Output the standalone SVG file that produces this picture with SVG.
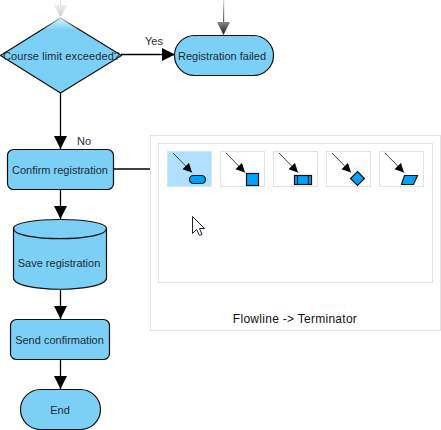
<svg xmlns="http://www.w3.org/2000/svg" width="441" height="430" viewBox="0 0 441 430">
<defs>
<marker id="arr" markerUnits="userSpaceOnUse" markerWidth="14" markerHeight="14" refX="13" refY="7" orient="auto"><path d="M0,0.500 L13,7 L0,13.500 Z" fill="#000"/></marker>
<marker id="sm" markerUnits="userSpaceOnUse" markerWidth="10" markerHeight="10" refX="9" refY="5" orient="auto"><path d="M0,0.500 L9,5 L0,9.500 Z" fill="#000"/></marker>
<linearGradient id="fadeTop" x1="0" y1="0" x2="0" y2="1"><stop offset="0" stop-color="#fff" stop-opacity="0.850"/><stop offset="1" stop-color="#fff" stop-opacity="0"/></linearGradient>
<linearGradient id="fadeLine" x1="0" y1="0" x2="0" y2="1"><stop offset="0" stop-color="#eee"/><stop offset="1" stop-color="#ccc"/></linearGradient>
<linearGradient id="fadeDarkLine" x1="0" y1="0" x2="0" y2="1"><stop offset="0" stop-color="#ddd"/><stop offset="1" stop-color="#444"/></linearGradient>
<linearGradient id="fadeDark" x1="0" y1="0" x2="0" y2="1"><stop offset="0" stop-color="#888"/><stop offset="1" stop-color="#1a1a1a"/></linearGradient>
</defs>
<style>
.n{fill:#7ccff5;stroke:#111;stroke-width:1.200;stroke-linejoin:round}
.t{font-family:"Liberation Sans",Arial,sans-serif;font-size:11px;fill:#1f2c38;text-anchor:middle}
.c{stroke:#000;stroke-width:1.300;fill:none}
.b{fill:#fff;stroke:#e2e2e2;stroke-width:1}
.s{fill:#00a2ff;stroke:#111;stroke-width:1.200}
.k{stroke:#444;stroke-width:1;fill:none;marker-end:url(#sm)}
</style>
<rect width="441" height="430" fill="#fff"/>
<g id="connectors">
<rect x="60" y="0" width="1" height="8" fill="url(#fadeLine)"/>
<path d="M54,5 H67 L60.500,18 Z" fill="url(#fadeLine)"/>
<rect x="223" y="0" width="1.200" height="24" fill="url(#fadeDarkLine)"/>
<path d="M217,22 H230 L223.500,35 Z" fill="url(#fadeDark)"/>
<path class="c" d="M121,54.500 H175" marker-end="url(#arr)"/>
<path class="c" d="M60.500,93 V149" marker-end="url(#arr)"/>
<path class="c" d="M113.500,169 H166"/>
<path class="c" d="M60.500,190 V219" marker-end="url(#arr)"/>
<path class="c" d="M60.500,290 V319" marker-end="url(#arr)"/>
<path class="c" d="M60.500,360 V389" marker-end="url(#arr)"/>
</g>
<text class="t" x="154" y="45">Yes</text>
<text class="t" x="84" y="145">No</text>
<g id="n1"><path class="n" d="M60.500,18 L121.500,55.500 L60.500,93 L0.500,55.500 Z"/><rect x="40" y="16" width="41" height="14" fill="url(#fadeTop)"/><text class="t" x="61.500" y="60" style="letter-spacing:0.100px">Course limit exceeded?</text></g>
<g id="n2"><rect class="n" x="174.500" y="35.500" width="99" height="40" rx="20" ry="20"/><text class="t" x="222" y="60">Registration failed</text></g>
<g id="n3"><rect class="n" x="7.500" y="149.500" width="106" height="40" rx="6" ry="6"/><text class="t" x="60" y="174">Confirm registration</text></g>
<g id="n4"><path class="n" d="M13.500,228.500 C13.500,216.500 106.500,216.500 106.500,228.500 V278 C106.500,293 13.500,293 13.500,278 Z"/><path class="n" style="fill:none" d="M13.500,228.500 C13.500,242 106.500,242 106.500,228.500"/><text class="t" x="59" y="267">Save registration</text></g>
<g id="n5"><rect class="n" x="10.500" y="319.500" width="99" height="40" rx="6" ry="6"/><text class="t" x="59.500" y="344">Send confirmation</text></g>
<g id="n6"><rect class="n" x="20.500" y="389.500" width="80" height="40" rx="20" ry="20"/><text class="t" x="60" y="414">End</text></g>
<g id="panel">
<rect class="b" x="150.500" y="135.500" width="290" height="195"/>
<rect class="b" x="158.500" y="143.500" width="274" height="139"/>
<rect x="167.500" y="151.500" width="44" height="35" fill="#b0e0ff" stroke="#d8e4ec"/>
<rect class="b" x="220.500" y="151.500" width="44" height="35"/>
<rect class="b" x="273.500" y="151.500" width="44" height="35"/>
<rect class="b" x="326.500" y="151.500" width="44" height="35"/>
<rect class="b" x="379.500" y="151.500" width="44" height="35"/>
<path class="k" d="M173,153 L192,172.500"/>
<rect class="s" x="189.500" y="175.500" width="16" height="8" rx="4" ry="4"/>
<path class="k" d="M226,153 L245,172.500"/>
<rect class="s" x="246.500" y="173.500" width="12" height="12"/>
<path class="k" d="M279,153 L298,172.500"/>
<rect class="s" x="294.500" y="175.500" width="17" height="9"/>
<path d="M297.500,175.500 V184.500 M308.500,175.500 V184.500" stroke="#111" stroke-width="1.200" fill="none"/>
<path class="k" d="M332,153 L351,172.500"/>
<path class="s" d="M357.500,171.500 L364.500,178.500 L357.500,185.500 L350.500,178.500 Z"/>
<path class="k" d="M385,153 L404,172.500"/>
<path class="s" d="M404.500,175.500 H417.500 L413.500,184.500 H401.500 Z"/>
<path d="M192.500,216.500 V233.500 L196.500,229.500 L199.500,235.500 L202,234.500 L199.500,228.500 L204.500,228.500 Z" fill="#fff" stroke="#223" stroke-width="1"/>
<text x="295" y="323" font-family="'Liberation Sans',Arial,sans-serif" font-size="12px" fill="#111" text-anchor="middle" style="letter-spacing:0.280px">Flowline -&gt; Terminator</text>
</g>
</svg>
